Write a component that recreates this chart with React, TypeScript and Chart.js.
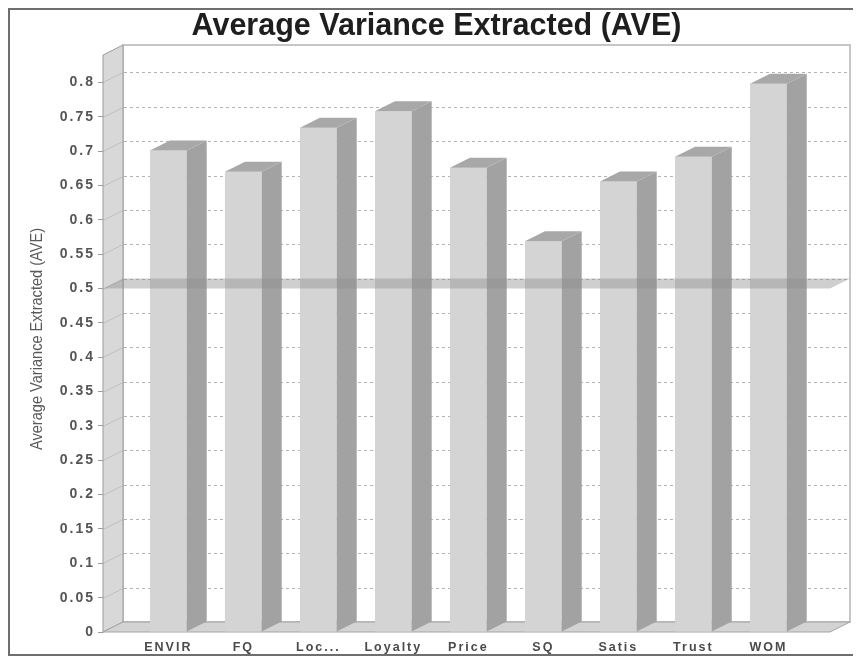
import React, { useEffect, useRef } from "react";
import { Chart, registerables } from "chart.js";

Chart.register(...registerables);

// Constructs and their AVE scores
const CATEGORIES = ["ENVIR", "FQ", "Loc...", "Loyalty", "Price", "SQ", "Satis", "Trust", "WOM"];
const AVE_VALUES = [0.701, 0.67, 0.734, 0.758, 0.676, 0.569, 0.656, 0.692, 0.798];

// Value axis ticks
const Y_TICKS = [0, 0.05, 0.1, 0.15, 0.2, 0.25, 0.3, 0.35, 0.4, 0.45, 0.5, 0.55, 0.6, 0.65, 0.7, 0.75, 0.8];
const Y_MAX = 0.84;

// Recommended minimum AVE, shown as a flat band across the plot
const THRESHOLD = 0.5;

const CHART_TITLE = "Average Variance Extracted (AVE)";
const Y_AXIS_TITLE = "Average Variance Extracted (AVE)";

// 3D depth offsets in pixels
const DX = 20;
const DY = 10;

const FONT = "'Liberation Sans', Arial, sans-serif";

const threeD = {
  id: "threeD",
  beforeDraw(chart: any) {
    chart.ctx.letterSpacing = "0px";
  },
  beforeDatasetsDraw(chart: any) {
    const { ctx, chartArea, scales } = chart;
    const { left: L, right: R, top: T, bottom: B } = chartArea;
    const y = scales.y;
    ctx.save();

    // back wall
    ctx.fillStyle = "#ffffff";
    ctx.fillRect(L + DX, T - DY, R - L, B - T);
    ctx.strokeStyle = "#c6c6c6";
    ctx.lineWidth = 2;
    ctx.strokeRect(L + DX, T - DY, R - L, B - T);

    // left wall
    ctx.beginPath();
    ctx.moveTo(L, T);
    ctx.lineTo(L + DX, T - DY);
    ctx.lineTo(L + DX, B - DY);
    ctx.lineTo(L, B);
    ctx.closePath();
    ctx.fillStyle = "#d8d8d8";
    ctx.fill();
    ctx.lineWidth = 1;
    ctx.strokeStyle = "#9c9c9c";
    ctx.stroke();

    // floor
    ctx.beginPath();
    ctx.moveTo(L, B);
    ctx.lineTo(L + DX, B - DY);
    ctx.lineTo(R + DX, B - DY);
    ctx.lineTo(R, B);
    ctx.closePath();
    ctx.fillStyle = "#d3d3d3";
    ctx.fill();
    ctx.strokeStyle = "#a4a4a4";
    ctx.stroke();

    // grid lines on the back wall and their traces on the left wall
    Y_TICKS.forEach((v) => {
      if (v === 0) return;
      const py = Math.round(y.getPixelForValue(v)) + 0.5;
      ctx.setLineDash([]);
      ctx.strokeStyle = "rgba(170,170,170,0.55)";
      ctx.beginPath();
      ctx.moveTo(L, py);
      ctx.lineTo(L + DX, py - DY);
      ctx.stroke();
      ctx.setLineDash([3, 3]);
      ctx.strokeStyle = "#b4b4b4";
      ctx.beginPath();
      ctx.moveTo(L + DX + 1, py - DY);
      ctx.lineTo(R + DX - 1, py - DY);
      ctx.stroke();
    });
    ctx.restore();
  },
  afterDatasetsDraw(chart: any) {
    const { ctx, chartArea, scales } = chart;
    const { left: L, right: R } = chartArea;
    const meta = chart.getDatasetMeta(0);
    ctx.save();

    meta.data.forEach((bar: any) => {
      const { x, y, base, width } = bar.getProps(["x", "y", "base", "width"], true);
      const xl = x - width / 2;
      const xr = x + width / 2;
      // side face
      ctx.beginPath();
      ctx.moveTo(xr, y);
      ctx.lineTo(xr + DX, y - DY);
      ctx.lineTo(xr + DX, base - DY);
      ctx.lineTo(xr, base);
      ctx.closePath();
      ctx.fillStyle = "#a2a2a2";
      ctx.fill();
      // top face
      ctx.beginPath();
      ctx.moveTo(xl, y);
      ctx.lineTo(xl + DX, y - DY);
      ctx.lineTo(xr + DX, y - DY);
      ctx.lineTo(xr, y);
      ctx.closePath();
      ctx.fillStyle = "#a8a8a8";
      ctx.fill();
    });

    // threshold band
    const ty = scales.y.getPixelForValue(THRESHOLD);
    ctx.beginPath();
    ctx.moveTo(L, ty);
    ctx.lineTo(L + DX, ty - DY);
    ctx.lineTo(R + DX, ty - DY);
    ctx.lineTo(R, ty);
    ctx.closePath();
    ctx.fillStyle = "rgba(140,140,140,0.42)";
    ctx.fill();

    // value axis title
    ctx.translate(27, 329);
    ctx.rotate(-Math.PI / 2);
    ctx.font = `17px ${FONT}`;
    ctx.fillStyle = "#5a5a5a";
    ctx.textAlign = "center";
    ctx.textBaseline = "middle";
    ctx.fillText(Y_AXIS_TITLE, 0, 0, 222);
    ctx.restore();

    // tick labels (drawn after the datasets) use wide letter spacing
    ctx.letterSpacing = "2px";
  },
  afterDraw(chart: any) {
    chart.ctx.letterSpacing = "0px";
  },
};

export default function App() {
  const canvasRef = useRef<HTMLCanvasElement | null>(null);

  useEffect(() => {
    if (!canvasRef.current) return;
    const chart = new Chart(canvasRef.current, {
      type: "bar",
      data: {
        datasets: [
          {
            label: "AVE",
            data: AVE_VALUES.map((v, i) => ({ x: i, y: v })),
            backgroundColor: "#d4d4d4",
            borderWidth: 0,
            categoryPercentage: 1,
            barPercentage: 0.49,
          },
        ],
      },
      options: {
        responsive: false,
        animation: false,
        layout: { padding: { left: 10, right: 0, top: 0, bottom: 0 } },
        plugins: {
          legend: { display: false },
          tooltip: { enabled: false },
          title: {
            display: true,
            text: CHART_TITLE,
            color: "#1e1e1e",
            font: { family: FONT, size: 30.5, weight: "bold", lineHeight: 30 / 30.5 },
            padding: { top: 2, bottom: 13 },
          },
        },
        scales: {
          x: {
            type: "linear",
            offset: false,
            min: -0.871,
            max: 8.822,
            afterFit: (s: any) => {
              s.height = 22;
            },
            afterBuildTicks: (s: any) => {
              s.ticks = CATEGORIES.map((_, i) => ({ value: i }));
            },
            grid: { display: false, drawTicks: false, offset: false },
            border: { display: false },
            ticks: {
              z: 1,
              autoSkip: false,
              maxRotation: 0,
              padding: 8,
              color: "#4a4a4a",
              font: { family: FONT, size: 12.5, weight: "bold" },
              callback: (v: any) => CATEGORIES[v] ?? "",
            },
          },
          y: {
            type: "linear",
            min: 0,
            max: Y_MAX,
            afterFit: (s: any) => {
              s.width = 83;
            },
            afterBuildTicks: (s: any) => {
              s.ticks = Y_TICKS.map((v) => ({ value: v }));
            },
            grid: {
              display: true,
              drawOnChartArea: false,
              drawTicks: true,
              tickLength: 5,
              color: "#9a9a9a",
            },
            border: { display: false },
            ticks: {
              z: 1,
              padding: 3,
              color: "#555555",
              font: { family: FONT, size: 14, weight: "bold" },
              callback: (v: any) => String(+Number(v).toFixed(2)),
            },
          },
          yRight: {
            type: "linear",
            position: "right",
            display: true,
            afterFit: (s: any) => {
              s.width = 23;
            },
            grid: { display: false, drawTicks: false },
            border: { display: false },
            ticks: { display: false },
          },
        },
      },
      plugins: [threeD],
    });
    return () => chart.destroy();
  }, []);

  return (
    <div style={{ width: 843, height: 644, border: "2px solid #6e6e6e", background: "#ffffff" }}>
      <canvas ref={canvasRef} width={843} height={644} style={{ display: "block" }} />
    </div>
  );
}
